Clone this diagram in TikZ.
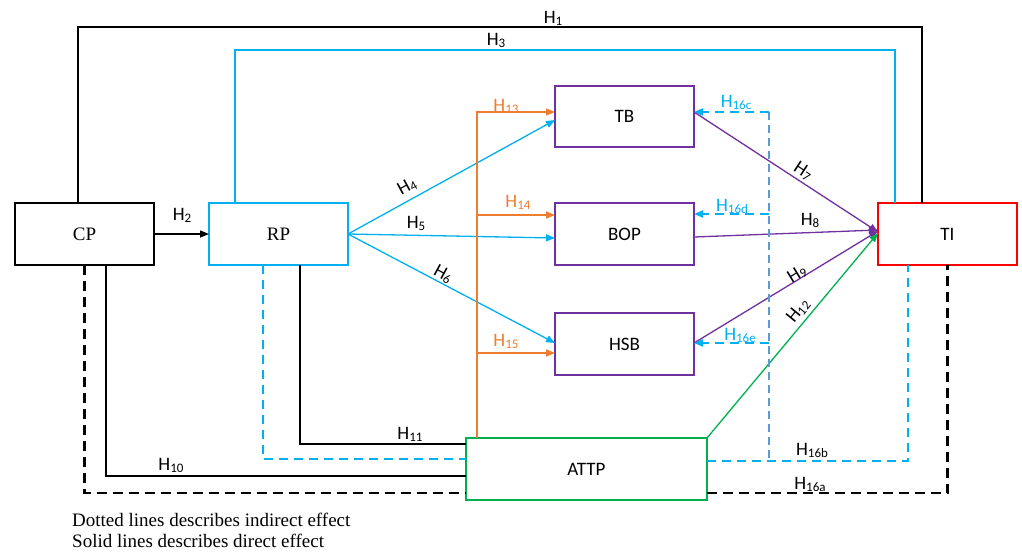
\documentclass[tikz,border=0pt]{standalone}
\usepackage{fontspec}
\setmainfont{Liberation Serif}
\newfontfamily\calibrifont{Carlito}
\usetikzlibrary{arrows.meta}
\definecolor{cblue}{HTML}{00B0F0}
\definecolor{cpurple}{HTML}{7030A0}
\definecolor{corange}{HTML}{ED7D31}
\definecolor{cgreen}{HTML}{00B050}
\definecolor{cred}{HTML}{FF0000}
\definecolor{cmblue}{HTML}{5B9BD5}
\newcommand{\hyp}[1]{H\raisebox{-2pt}{\fontsize{13}{13}\selectfont #1}}
\begin{document}
\begin{tikzpicture}[x=1pt,y=-1pt,
  box/.style={draw,line width=1.4pt,minimum width=139pt,minimum height=62pt,inner sep=0pt,outer sep=0pt},
  serifbox/.style={box,font=\fontsize{19}{22}\selectfont},
  sansbox/.style={box,font=\calibrifont\fontsize{19}{22}\selectfont},
  lab/.style={font=\calibrifont\fontsize{19}{20}\selectfont,inner sep=0pt},
  tip/.style={-{Triangle[length=9pt,width=7pt]}},
  blackl/.style={line width=1.4pt,draw=black},
  bluel/.style={line width=1.3pt,draw=cblue},
  purplel/.style={line width=1.3pt,draw=cpurple},
  orangel/.style={line width=1.3pt,draw=corange},
  greenl/.style={line width=1.3pt,draw=cgreen},
  blackdash/.style={line width=2.4pt,draw=black,dash pattern=on 10pt off 6pt},
  bluedash/.style={line width=2pt,draw=cblue,dash pattern=on 9pt off 6pt},
  midbluedash/.style={line width=2pt,draw=cmblue,dash pattern=on 8pt off 5pt},
  note/.style={anchor=base west,inner sep=0pt,font=\fontsize{19}{22}\selectfont}
]
\fill[white] (0,0) rectangle (1022,552);
\useasboundingbox (0,0) rectangle (1022,552);

% boxes
\node[serifbox] (CP) at (84.5,234) {CP};
\node[serifbox,draw=cblue] (RP) at (278.5,234) {RP};
\node[sansbox,draw=cpurple,minimum height=61pt] (TB) at (624.5,116.5) {TB};
\node[sansbox,draw=cpurple] (BOP) at (624.5,234) {BOP};
\node[sansbox,draw=cpurple] (HSB) at (624.5,344) {HSB};
\node[sansbox,draw=cred] (TI) at (947.5,234) {TI};
\node[sansbox,draw=cgreen,minimum width=241pt] (ATTP) at (586.5,469) {ATTP};

% helper coordinates
\coordinate (top1) at (500,27);
\coordinate (top3) at (500,50);
\coordinate (ov) at ([xshift=-109.5pt]ATTP.north);
\coordinate (o13) at ([yshift=4.5pt]TB.west);
\coordinate (o14) at ([yshift=19pt]BOP.west);
\coordinate (o15) at ([yshift=-9pt]HSB.west);
\coordinate (c16) at ([yshift=4.5pt]TB.east);
\coordinate (d16) at ([yshift=20pt]BOP.east);
\coordinate (e16) at ([yshift=1pt]HSB.east);
\coordinate (v16) at (769,112);
\coordinate (b16) at ([yshift=8pt]ATTP.east);

% H1, H3
\draw[blackl] ([xshift=-6.5pt]CP.north) -- ([xshift=-6.5pt]CP.north |- top1) -| ([xshift=-25.5pt]TI.north);
\draw[bluel] ([xshift=-43.5pt]RP.north) -- ([xshift=-43.5pt]RP.north |- top3) -| ([xshift=-52.5pt]TI.north);

% H2
\draw[blackl,tip] (CP.east) -- (RP.west);

% H4-H6
\draw[bluel,tip] (RP.east) -- ([yshift=-3.5pt]TB.west);
\draw[bluel,tip] (RP.east) -- ([yshift=-4pt]BOP.west);
\draw[bluel,tip] (RP.east) -- ([yshift=1pt]HSB.west);

% H13-H15
\draw[orangel,tip] (ov) |- (o13);
\draw[orangel,tip] (ov |- o14) -- (o14);
\draw[orangel,tip] (ov |- o15) -- (o15);

% H7-H9, H12
\draw[purplel,tip] (c16) -- ([yshift=2pt]TI.west);
\draw[purplel,tip] ([yshift=-3pt]BOP.east) -- ([yshift=4pt]TI.west);
\draw[purplel,tip] ([yshift=1pt]HSB.east) -- ([yshift=3pt]TI.west);
\draw[greenl,tip] (ATTP.north east) -- ([yshift=1pt]TI.west);

% H16c-e
\draw[midbluedash] (v16 |- c16) -- (v16 |- b16);
\draw[bluedash,tip] (v16 |- c16) -- (c16);
\draw[bluedash,tip] (v16 |- d16) -- (d16);
\draw[bluedash,tip] (v16 |- e16) -- (e16);

% H16b
\draw[bluedash] ([xshift=-15.5pt]RP.south) |- ([yshift=10pt]ATTP.west);
\draw[bluedash] (b16) -| ([xshift=-39.5pt]TI.south);

% H10, H11
\draw[blackl] ([xshift=21.5pt]RP.south) |- ([yshift=25pt]ATTP.west);
\draw[blackl] ([xshift=21.5pt]CP.south) |- ([yshift=-7pt]ATTP.west);

% H16a
\draw[blackdash] (CP.south) |- ([yshift=-24pt]ATTP.west);
\draw[blackdash] ([yshift=-24pt]ATTP.east) -| (TI.south);

% labels
\node[lab] (l1) at (553,18) {\hyp{1}};
\node[lab] (l2) at (182,215) {\hyp{2}};
\node[lab] (l3) at (496,40) {\hyp{3}};
\node[lab,rotate=28.6] (l4) at (407,187) {\hyp{4}};
\node[lab] (l5) at (416,223) {\hyp{5}};
\node[lab,rotate=-28.4] (l6) at (443,274) {\hyp{6}};
\node[lab,rotate=-33] (l7) at (803,171) {\hyp{7}};
\node[lab] (l8) at (810,220) {\hyp{8}};
\node[lab,rotate=31.5] (l9) at (797,274) {\hyp{9}};
\node[lab] (l10) at (171,465) {\hyp{10}};
\node[lab] (l11) at (410,434) {\hyp{11}};
\node[lab,rotate=50.6] (l12) at (798,311) {\hyp{12}};
\node[lab,text=corange] (l13) at (506,106) {\hyp{13}};
\node[lab,text=corange] (l14) at (518,202) {\hyp{14}};
\node[lab,text=corange] (l15) at (506,341) {\hyp{15}};
\node[lab] (l16a) at (810,484) {\hyp{16a}};
\node[lab] (l16b) at (812,450) {\hyp{16b}};
\node[lab,text=cblue] (l16c) at (736,102) {\hyp{16c}};
\node[lab,text=cblue] (l16d) at (732,206) {\hyp{16d}};
\node[lab,text=cblue] (l16e) at (740,335) {\hyp{16e}};

% notes
\node[note] (n1) at (72,526) {Dotted lines describes indirect effect};
\node[note] (n2) at (72,547) {Solid lines describes direct effect};
\end{tikzpicture}
\end{document}
